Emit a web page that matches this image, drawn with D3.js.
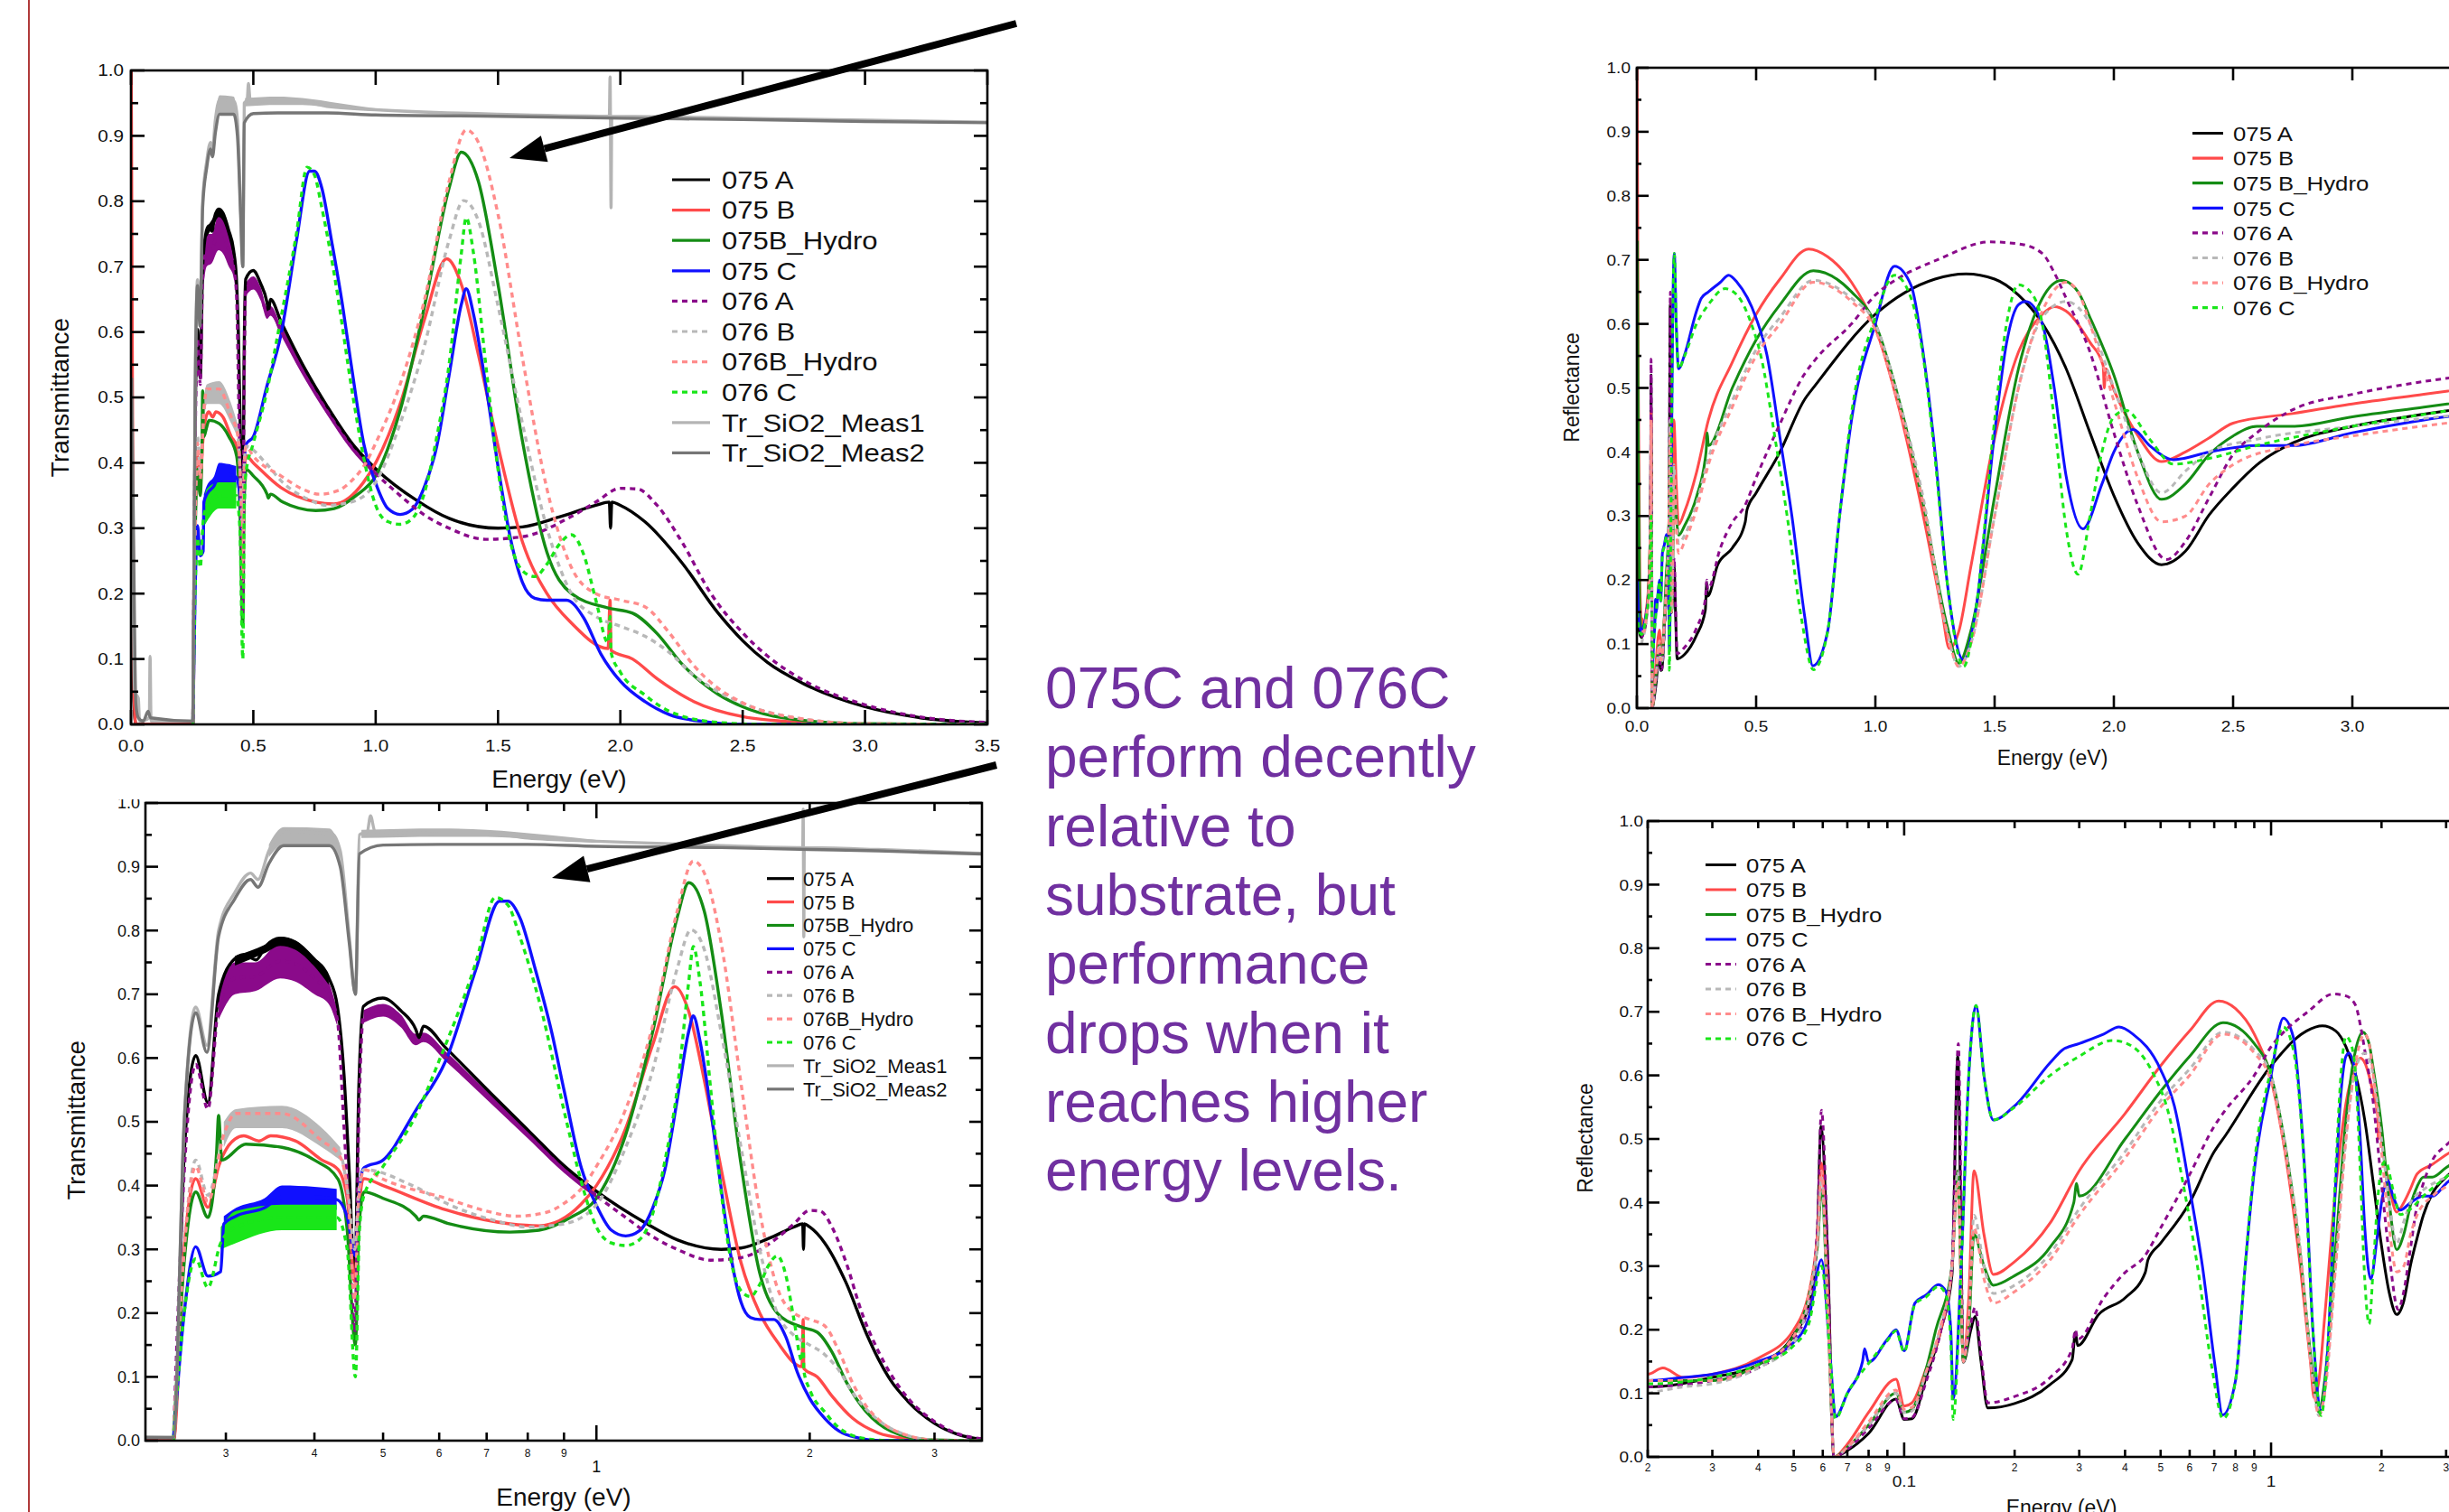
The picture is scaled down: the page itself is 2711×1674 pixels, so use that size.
<!DOCTYPE html>
<html>
<head>
<meta charset="utf-8">
<script src="https://cdn.jsdelivr.net/npm/d3@7"></script>
<style>
body { margin: 0; background: #fff; }
svg { display: block; font-family: "Liberation Sans", Arial, Helvetica, sans-serif; }
</style>
</head>
<body>
<div id="slide"></div>
<script>
// ---- transmittance data [energy eV, T] ----
const t075A = [[0.001,0.30],[0.01,0.05],[0.02,0],[0.253,0],[0.262,0.45],[0.272,0.604],[0.283,0.53],[0.293,0.70],[0.309,0.756],[0.318,0.762],[0.331,0.754],[0.341,0.775],[0.358,0.788],[0.376,0.782],[0.399,0.756],[0.419,0.726],[0.431,0.681],[0.44,0.58],[0.448,0.42],[0.456,0.25],[0.462,0.55],[0.469,0.681],[0.4995,0.694],[0.53,0.674],[0.556,0.645],[0.562,0.632],[0.57,0.65],[0.613,0.616],[0.709,0.545],[0.804,0.485],[0.907,0.428],[1.0,0.391],[1.17,0.342],[1.3,0.315],[1.5,0.30],[1.6,0.302],[1.75,0.317],[1.9,0.335],[1.955,0.34],[1.96,0.30],[1.965,0.34],[2.0,0.335],[2.1,0.31],[2.25,0.248],[2.4,0.17],[2.5,0.128],[2.6,0.095],[2.75,0.062],[3.0,0.027],[3.25,0.009],[3.5,0.002]];
const t075B = [[0.001,1.0],[0.006,0.5],[0.012,0.05],[0.02,0],[0.253,0],[0.262,0.3],[0.272,0.411],[0.283,0.366],[0.293,0.43],[0.309,0.473],[0.318,0.478],[0.334,0.47],[0.347,0.478],[0.376,0.47],[0.41,0.44],[0.432,0.425],[0.445,0.38],[0.456,0.25],[0.462,0.36],[0.469,0.411],[0.5,0.40],[0.613,0.362],[0.755,0.34],[0.83,0.337],[0.95,0.37],[1.0,0.40],[1.1,0.49],[1.2,0.62],[1.29,0.712],[1.35,0.673],[1.42,0.565],[1.5,0.426],[1.6,0.279],[1.7,0.2],[1.8,0.155],[1.95,0.116],[1.958,0.19],[1.962,0.113],[2.05,0.10],[2.15,0.07],[2.3,0.035],[2.5,0.012],[2.75,0.003],[3.0,0],[3.5,0]];
const t075BH = [[0.253,0],[0.262,0.28],[0.272,0.39],[0.283,0.35],[0.291,0.45],[0.293,0.51],[0.296,0.44],[0.32,0.465],[0.36,0.46],[0.4,0.44],[0.432,0.41],[0.445,0.33],[0.457,0.15],[0.462,0.33],[0.47,0.39],[0.5,0.38],[0.556,0.352],[0.562,0.346],[0.57,0.352],[0.62,0.34],[0.755,0.327],[0.83,0.33],[0.92,0.35],[1.0,0.38],[1.1,0.48],[1.2,0.64],[1.3,0.82],[1.35,0.875],[1.42,0.83],[1.5,0.673],[1.6,0.433],[1.7,0.263],[1.8,0.2],[1.95,0.178],[2.05,0.17],[2.15,0.139],[2.25,0.093],[2.4,0.046],[2.5,0.027],[2.75,0.006],[3.0,0.001],[3.5,0]];
const t075C = [[0.253,0],[0.262,0.2],[0.272,0.304],[0.283,0.258],[0.295,0.265],[0.298,0.34],[0.31,0.352],[0.34,0.365],[0.36,0.382],[0.4,0.382],[0.43,0.378],[0.445,0.35],[0.457,0.29],[0.463,0.40],[0.47,0.428],[0.5,0.44],[0.556,0.518],[0.613,0.596],[0.676,0.739],[0.73,0.846],[0.75,0.846],[0.78,0.82],[0.82,0.739],[0.865,0.64],[0.9,0.55],[0.952,0.428],[1.0,0.369],[1.05,0.33],[1.1,0.321],[1.15,0.329],[1.2,0.364],[1.25,0.426],[1.3,0.534],[1.35,0.642],[1.37,0.666],[1.4,0.627],[1.45,0.519],[1.5,0.395],[1.55,0.286],[1.6,0.217],[1.65,0.193],[1.7,0.19],[1.78,0.19],[1.85,0.163],[1.92,0.108],[2.0,0.066],[2.1,0.035],[2.2,0.015],[2.35,0.004],[2.5,0],[3.5,0]];
const t076A = [[0.253,0],[0.262,0.42],[0.272,0.59],[0.283,0.52],[0.293,0.68],[0.309,0.725],[0.33,0.728],[0.358,0.752],[0.376,0.748],[0.4,0.725],[0.419,0.70],[0.431,0.66],[0.44,0.5],[0.45,0.3],[0.456,0.17],[0.462,0.5],[0.469,0.665],[0.5,0.675],[0.53,0.658],[0.556,0.629],[0.57,0.632],[0.613,0.602],[0.7,0.541],[0.8,0.48],[0.9,0.425],[1.0,0.384],[1.1,0.35],[1.2,0.32],[1.3,0.30],[1.45,0.283],[1.6,0.287],[1.8,0.318],[1.9,0.34],[2.0,0.361],[2.07,0.36],[2.15,0.335],[2.25,0.28],[2.37,0.2],[2.5,0.14],[2.6,0.105],[2.76,0.065],[3.0,0.03],[3.25,0.01],[3.5,0.003]];
const t076B = [[0.253,0],[0.262,0.3],[0.272,0.44],[0.283,0.385],[0.298,0.48],[0.31,0.505],[0.36,0.508],[0.41,0.475],[0.435,0.45],[0.447,0.38],[0.456,0.3],[0.462,0.39],[0.47,0.425],[0.55,0.40],[0.62,0.37],[0.72,0.345],[0.8,0.335],[0.9,0.34],[1.0,0.37],[1.1,0.46],[1.2,0.58],[1.3,0.74],[1.36,0.801],[1.42,0.77],[1.5,0.64],[1.6,0.46],[1.7,0.3],[1.8,0.2],[1.9,0.165],[2.0,0.15],[2.1,0.135],[2.2,0.11],[2.3,0.075],[2.4,0.05],[2.5,0.032],[2.75,0.008],[3.0,0.001],[3.5,0]];
const t076BH = [[0.253,0],[0.262,0.3],[0.272,0.43],[0.283,0.375],[0.298,0.48],[0.31,0.513],[0.36,0.513],[0.41,0.47],[0.435,0.445],[0.447,0.37],[0.456,0.22],[0.462,0.38],[0.47,0.425],[0.5,0.41],[0.613,0.38],[0.7,0.36],[0.77,0.352],[0.85,0.358],[0.9,0.372],[0.96,0.4],[1.0,0.43],[1.1,0.52],[1.2,0.65],[1.3,0.83],[1.37,0.909],[1.42,0.89],[1.5,0.78],[1.6,0.56],[1.7,0.36],[1.8,0.24],[1.9,0.2],[2.0,0.19],[2.1,0.18],[2.2,0.14],[2.3,0.09],[2.4,0.055],[2.5,0.033],[2.75,0.008],[3.0,0.001],[3.5,0]];
const t076C = [[0.253,0],[0.262,0.2],[0.272,0.285],[0.283,0.24],[0.295,0.31],[0.31,0.335],[0.36,0.35],[0.43,0.35],[0.445,0.3],[0.457,0.1],[0.463,0.33],[0.47,0.385],[0.5,0.43],[0.556,0.51],[0.6,0.596],[0.676,0.75],[0.72,0.852],[0.75,0.84],[0.78,0.79],[0.83,0.69],[0.91,0.495],[0.95,0.41],[1.0,0.335],[1.05,0.31],[1.1,0.306],[1.15,0.315],[1.2,0.355],[1.25,0.44],[1.3,0.55],[1.35,0.72],[1.37,0.775],[1.4,0.72],[1.45,0.55],[1.5,0.39],[1.55,0.28],[1.6,0.235],[1.65,0.226],[1.7,0.245],[1.75,0.275],[1.8,0.29],[1.85,0.26],[1.9,0.19],[1.95,0.125],[1.958,0.165],[1.962,0.11],[2.0,0.08],[2.1,0.045],[2.2,0.02],[2.4,0.003],[2.6,0],[3.5,0]];
const tMeas1 = [[0.003,0.45],[0.015,0.05],[0.03,0.04],[0.035,0.005],[0.075,0.01],[0.078,0.104],[0.082,0.005],[0.253,0.005],[0.262,0.5],[0.272,0.68],[0.282,0.62],[0.293,0.80],[0.309,0.86],[0.325,0.89],[0.333,0.88],[0.345,0.925],[0.362,0.955],[0.423,0.952],[0.435,0.925],[0.448,0.79],[0.457,0.70],[0.463,0.95],[0.475,0.955],[0.48,0.98],[0.487,0.955],[0.6,0.952],[0.7,0.952],[0.8,0.945],[1.0,0.94],[1.5,0.933],[1.955,0.93],[1.958,0.99],[1.962,0.79],[1.965,0.93],[2.5,0.927],[3.0,0.924],[3.5,0.921]];
const tMeas2 = [[0.003,0.53],[0.01,0.3],[0.02,0.03],[0.03,0.01],[0.05,0.005],[0.07,0.02],[0.08,0.01],[0.253,0.005],[0.262,0.5],[0.272,0.671],[0.282,0.609],[0.293,0.791],[0.309,0.85],[0.325,0.88],[0.333,0.868],[0.345,0.905],[0.362,0.933],[0.42,0.933],[0.435,0.9],[0.448,0.78],[0.457,0.70],[0.463,0.92],[0.5,0.934],[0.6,0.935],[0.8,0.935],[1.0,0.932],[1.5,0.93],[2.0,0.927],[2.5,0.925],[3.0,0.922],[3.5,0.92]];

// noisy ranges in the transmittance traces [energy, low, high]
const band075A = [[0.309,0.745,0.76],[0.341,0.765,0.778],[0.358,0.776,0.79],[0.376,0.77,0.784],[0.399,0.745,0.758],[0.419,0.715,0.728]];
const band076A = [[0.293,0.66,0.70],[0.309,0.70,0.75],[0.33,0.705,0.75],[0.358,0.725,0.78],[0.376,0.72,0.775],[0.4,0.70,0.75],[0.419,0.685,0.72],[0.431,0.65,0.675]];
const band076Ab = [[0.469,0.655,0.675],[0.5,0.665,0.685],[0.53,0.648,0.668],[0.556,0.62,0.638],[0.57,0.625,0.64],[0.613,0.595,0.61],[0.7,0.535,0.548],[0.8,0.474,0.486],[0.9,0.42,0.43],[1.0,0.38,0.388]];
const band075C = [[0.298,0.33,0.352],[0.31,0.34,0.365],[0.34,0.35,0.38],[0.36,0.365,0.40],[0.4,0.367,0.398],[0.43,0.362,0.395]];
const band076C = [[0.295,0.30,0.335],[0.31,0.31,0.36],[0.36,0.33,0.37],[0.43,0.33,0.37]];
const band076B = [[0.298,0.46,0.50],[0.31,0.49,0.52],[0.36,0.49,0.525],[0.41,0.46,0.49],[0.435,0.44,0.46]];
const bandMeas1 = [[0.345,0.915,0.935],[0.362,0.935,0.962],[0.42,0.935,0.96],[0.435,0.90,0.93]];
const bandMeas1b = [[0.466,0.945,0.958],[0.6,0.947,0.96],[0.7,0.947,0.958],[0.85,0.942,0.95],[1.0,0.938,0.942]];

// ---- reflectance data [energy eV, R] ----
const r075A = [[0.002,0.3],[0.01,0.12],[0.02,0.11],[0.03,0.125],[0.04,0.145],[0.05,0.192],[0.055,0.24],[0.058,0.35],[0.0593,0.52],[0.062,0.3],[0.0643,0.0],[0.07,0.01],[0.08,0.037],[0.095,0.091],[0.1,0.059],[0.105,0.06],[0.115,0.127],[0.126,0.2],[0.135,0.286],[0.14,0.63],[0.145,0.149],[0.152,0.2],[0.156,0.221],[0.162,0.15],[0.169,0.077],[0.2,0.084],[0.249,0.113],[0.287,0.153],[0.293,0.196],[0.297,0.175],[0.339,0.224],[0.4,0.25],[0.454,0.29],[0.462,0.31],[0.5,0.336],[0.6,0.40],[0.7,0.48],[0.75,0.505],[1.0,0.615],[1.25,0.67],[1.38,0.678],[1.5,0.67],[1.6,0.645],[1.7,0.601],[1.8,0.53],[1.9,0.43],[2.0,0.332],[2.1,0.258],[2.2,0.224],[2.3,0.245],[2.4,0.302],[2.5,0.344],[2.6,0.38],[2.75,0.414],[3.0,0.44],[3.3,0.459],[3.5,0.47]];
const r075B = [[0.001,1.0],[0.006,0.5],[0.012,0.2],[0.02,0.13],[0.022,0.14],[0.025,0.125],[0.03,0.13],[0.04,0.155],[0.05,0.2],[0.056,0.28],[0.058,0.35],[0.0595,0.462],[0.062,0.25],[0.0645,0.0],[0.07,0.02],[0.08,0.07],[0.095,0.122],[0.1,0.08],[0.105,0.085],[0.115,0.14],[0.126,0.2],[0.135,0.3],[0.14,0.45],[0.145,0.16],[0.15,0.25],[0.155,0.45],[0.165,0.35],[0.175,0.287],[0.2,0.307],[0.25,0.368],[0.3,0.45],[0.4,0.54],[0.5,0.615],[0.6,0.67],[0.72,0.717],[0.8,0.705],[0.9,0.665],[1.0,0.594],[1.1,0.467],[1.2,0.302],[1.28,0.15],[1.31,0.093],[1.35,0.12],[1.4,0.22],[1.5,0.422],[1.6,0.556],[1.7,0.615],[1.75,0.627],[1.8,0.62],[1.9,0.571],[1.955,0.535],[1.96,0.5],[1.965,0.53],[2.0,0.497],[2.1,0.426],[2.2,0.385],[2.3,0.4],[2.4,0.422],[2.5,0.445],[2.75,0.46],[3.0,0.475],[3.3,0.49],[3.5,0.5]];
const r075BH = [[0.002,0.73],[0.006,0.4],[0.012,0.15],[0.02,0.12],[0.03,0.12],[0.04,0.145],[0.05,0.19],[0.058,0.33],[0.0595,0.42],[0.062,0.22],[0.0645,0.0],[0.07,0.015],[0.08,0.05],[0.095,0.1],[0.1,0.07],[0.105,0.075],[0.115,0.14],[0.122,0.2],[0.135,0.3],[0.14,0.45],[0.145,0.15],[0.15,0.2],[0.155,0.35],[0.165,0.3],[0.175,0.27],[0.2,0.285],[0.25,0.33],[0.29,0.4],[0.295,0.43],[0.3,0.41],[0.4,0.5],[0.5,0.575],[0.6,0.63],[0.74,0.683],[0.9,0.65],[1.0,0.6],[1.1,0.48],[1.2,0.32],[1.3,0.13],[1.35,0.07],[1.4,0.12],[1.5,0.33],[1.6,0.53],[1.7,0.64],[1.78,0.668],[1.85,0.65],[1.9,0.61],[2.0,0.52],[2.1,0.4],[2.2,0.326],[2.3,0.35],[2.4,0.396],[2.5,0.425],[2.6,0.44],[2.75,0.44],[3.0,0.455],[3.3,0.47],[3.5,0.48]];
const r075C = [[0.002,0.2],[0.01,0.13],[0.02,0.12],[0.025,0.125],[0.03,0.13],[0.04,0.15],[0.05,0.18],[0.055,0.22],[0.0595,0.31],[0.063,0.15],[0.065,0.063],[0.07,0.1],[0.077,0.15],[0.078,0.17],[0.08,0.149],[0.09,0.185],[0.095,0.2],[0.1,0.167],[0.107,0.242],[0.115,0.255],[0.124,0.271],[0.13,0.26],[0.134,0.2],[0.136,0.091],[0.143,0.3],[0.15,0.6],[0.157,0.71],[0.165,0.6],[0.175,0.53],[0.2,0.552],[0.25,0.62],[0.27,0.64],[0.3,0.65],[0.35,0.665],[0.385,0.676],[0.42,0.665],[0.5,0.609],[0.545,0.552],[0.6,0.422],[0.65,0.3],[0.704,0.142],[0.738,0.066],[0.8,0.12],[0.85,0.3],[0.9,0.45],[1.0,0.6],[1.08,0.69],[1.15,0.66],[1.2,0.556],[1.25,0.4],[1.3,0.2],[1.37,0.075],[1.42,0.15],[1.5,0.43],[1.55,0.57],[1.6,0.63],[1.63,0.635],[1.7,0.6],[1.75,0.5],[1.8,0.362],[1.87,0.28],[1.95,0.35],[2.0,0.4],[2.08,0.435],[2.15,0.41],[2.25,0.388],[2.4,0.4],[2.6,0.41],[2.75,0.41],[3.0,0.43],[3.3,0.45],[3.5,0.46]];
const r076A = [[0.02,0.11],[0.03,0.12],[0.04,0.14],[0.05,0.185],[0.055,0.24],[0.058,0.36],[0.0595,0.545],[0.062,0.3],[0.0643,0.0],[0.07,0.012],[0.08,0.045],[0.095,0.09],[0.1,0.06],[0.105,0.062],[0.115,0.12],[0.126,0.2],[0.135,0.3],[0.1405,0.65],[0.145,0.16],[0.152,0.21],[0.156,0.235],[0.162,0.16],[0.169,0.085],[0.2,0.095],[0.25,0.125],[0.287,0.17],[0.293,0.2],[0.297,0.185],[0.35,0.25],[0.4,0.29],[0.45,0.314],[0.5,0.36],[0.6,0.444],[0.7,0.52],[0.75,0.545],[0.9,0.6],[1.0,0.645],[1.1,0.672],[1.26,0.7],[1.48,0.728],[1.6,0.725],[1.7,0.71],[1.75,0.68],[1.8,0.64],[1.9,0.556],[2.0,0.43],[2.1,0.317],[2.22,0.232],[2.3,0.26],[2.4,0.329],[2.5,0.396],[2.6,0.43],[2.75,0.466],[3.0,0.49],[3.3,0.51],[3.5,0.52]];
const r076B = [[0.02,0.1],[0.025,0.11],[0.03,0.115],[0.04,0.14],[0.05,0.18],[0.058,0.33],[0.0595,0.44],[0.062,0.22],[0.0645,0.0],[0.07,0.015],[0.08,0.05],[0.095,0.1],[0.1,0.07],[0.105,0.072],[0.115,0.135],[0.125,0.2],[0.135,0.3],[0.14,0.45],[0.145,0.15],[0.15,0.22],[0.155,0.38],[0.165,0.3],[0.175,0.257],[0.2,0.27],[0.25,0.32],[0.3,0.39],[0.4,0.48],[0.5,0.56],[0.6,0.61],[0.74,0.668],[0.9,0.64],[1.0,0.6],[1.1,0.48],[1.2,0.33],[1.3,0.12],[1.35,0.065],[1.4,0.1],[1.5,0.3],[1.6,0.5],[1.7,0.61],[1.8,0.635],[1.9,0.6],[2.0,0.5],[2.1,0.4],[2.2,0.336],[2.3,0.37],[2.4,0.4],[2.6,0.42],[3.0,0.44],[3.5,0.46]];
const r076BH = [[0.02,0.12],[0.03,0.12],[0.04,0.145],[0.05,0.19],[0.058,0.34],[0.0595,0.45],[0.062,0.22],[0.0645,0.0],[0.07,0.015],[0.08,0.055],[0.095,0.105],[0.1,0.075],[0.105,0.078],[0.115,0.135],[0.125,0.2],[0.135,0.3],[0.14,0.43],[0.145,0.15],[0.15,0.22],[0.155,0.36],[0.165,0.28],[0.175,0.242],[0.2,0.26],[0.25,0.31],[0.3,0.38],[0.4,0.47],[0.5,0.55],[0.6,0.6],[0.74,0.665],[0.9,0.635],[1.0,0.59],[1.1,0.47],[1.2,0.32],[1.3,0.12],[1.35,0.065],[1.4,0.1],[1.5,0.3],[1.6,0.5],[1.7,0.62],[1.8,0.665],[1.85,0.65],[1.9,0.6],[2.0,0.48],[2.1,0.36],[2.2,0.291],[2.3,0.3],[2.4,0.35],[2.5,0.38],[2.75,0.41],[3.0,0.425],[3.5,0.45]];
const r076C = [[0.002,0.15],[0.01,0.12],[0.02,0.115],[0.03,0.125],[0.04,0.145],[0.05,0.175],[0.055,0.21],[0.0595,0.3],[0.063,0.15],[0.065,0.06],[0.07,0.1],[0.08,0.147],[0.09,0.183],[0.095,0.198],[0.1,0.165],[0.107,0.24],[0.115,0.252],[0.124,0.268],[0.13,0.255],[0.134,0.18],[0.136,0.059],[0.143,0.3],[0.15,0.6],[0.157,0.71],[0.165,0.6],[0.175,0.53],[0.2,0.55],[0.25,0.6],[0.3,0.63],[0.37,0.655],[0.42,0.645],[0.48,0.6],[0.52,0.55],[0.58,0.42],[0.63,0.3],[0.69,0.14],[0.74,0.06],[0.8,0.12],[0.85,0.3],[0.9,0.46],[1.0,0.61],[1.08,0.676],[1.15,0.64],[1.2,0.55],[1.25,0.39],[1.3,0.2],[1.37,0.065],[1.42,0.15],[1.5,0.45],[1.55,0.6],[1.6,0.661],[1.65,0.65],[1.7,0.6],[1.75,0.45],[1.8,0.28],[1.85,0.209],[1.9,0.3],[1.95,0.4],[2.0,0.455],[2.05,0.465],[2.15,0.42],[2.25,0.381],[2.4,0.39],[2.6,0.41],[3.0,0.44],[3.5,0.47]];

// ---- series names / styles ----
const transNames = ["075 A", "075 B", "075B_Hydro", "075 C", "076 A", "076 B", "076B_Hydro", "076 C", "Tr_SiO2_Meas1", "Tr_SiO2_Meas2"];
const reflNames = ["075 A", "075 B", "075 B_Hydro", "075 C", "076 A", "076 B", "076 B_Hydro", "076 C"];
const colors = ["#000000", "#ff4a4a", "#148c14", "#1010ff", "#8a0a8a", "#b8b8b8", "#ff8c8c", "#19e619", "#b4b4b4", "#767676"];
const dashed = [false, false, false, false, true, true, true, true, false, false];
const transSeries = [t075A, t075B, t075BH, t075C, t076A, t076B, t076BH, t076C, tMeas1, tMeas2];
const reflSeries = [r075A, r075B, r075BH, r075C, r076A, r076B, r076BH, r076C];
const transBands = [[bandMeas1, 8], [bandMeas1b, 8], [band076A, 4], [band075A, 0], [band076Ab, 4], [band076B, 5], [band075C, 3], [band076C, 7]];

// ticks
const linTicks = [0, 0.5, 1, 1.5, 2, 2.5, 3, 3.5];
const yMajor = d3.range(0, 11).map(d => d / 10);
const yMinor = d3.range(0, 10).map(d => d / 10 + 0.05);
const logMinorT = [0.3, 0.4, 0.5, 0.6, 0.7, 0.8, 0.9, 2, 3];
const logMajorT = [1];
const logMinorR = [0.02, 0.03, 0.04, 0.05, 0.06, 0.07, 0.08, 0.09, 0.2, 0.3, 0.4, 0.5, 0.6, 0.7, 0.8, 0.9, 2, 3];
const logMajorR = [0.1, 1];

const noteLines = ["075C and 076C", "perform decently", "relative to", "substrate, but", "performance", "drops when it", "reaches higher", "energy levels."];

const W = 2711, H = 1674;
const svg = d3.select("#slide").append("svg").attr("width", W).attr("height", H);
svg.append("rect").attr("width", W).attr("height", H).attr("fill", "#fff");
const defs = svg.append("defs");

function txt(g, x, y, s, size, anchor, sx) {
    return g.append("text")
        .attr("transform", `translate(${x},${y}) scale(${sx},1)`)
        .attr("text-anchor", anchor)
        .attr("font-size", size)
        .attr("fill", "#111")
        .text(s);
}

function chart(o) {
    const g = svg.append("g");
    if (o.clip) {
        defs.append("clipPath").attr("id", "outer" + o.id).append("rect")
            .attr("x", o.clip[0]).attr("y", o.clip[1]).attr("width", o.clip[2]).attr("height", o.clip[3]);
        g.attr("clip-path", `url(#outer${o.id})`);
    }
    const x = (o.log ? d3.scaleLog() : d3.scaleLinear()).domain(o.xDomain).range([o.left, o.right]);
    const y = d3.scaleLinear().domain([0, 1]).range([o.bottom, o.top]);

    defs.append("clipPath").attr("id", "plot" + o.id).append("rect")
        .attr("x", o.left).attr("y", o.top).attr("width", o.right - o.left).attr("height", o.bottom - o.top);
    const plot = g.append("g").attr("clip-path", `url(#plot${o.id})`);

    const area = d3.area().x(d => x(d[0])).y0(d => y(d[1])).y1(d => y(d[2])).curve(d3.curveMonotoneX);
    (o.bands || []).forEach(b => {
        plot.append("path").datum(b[0]).attr("fill", colors[b[1]]).attr("d", area);
    });

    const line = d3.line().x(d => x(d[0])).y(d => y(d[1])).curve(d3.curveMonotoneX);
    o.series.forEach((s, i) => {
        plot.append("path").datum(s)
            .attr("fill", "none")
            .attr("stroke", colors[i])
            .attr("stroke-width", o.lw)
            .attr("stroke-linejoin", "round")
            .attr("stroke-dasharray", dashed[i] ? "6,5" : null)
            .attr("d", line);
    });

    // frame
    g.append("rect").attr("x", o.left).attr("y", o.top)
        .attr("width", o.right - o.left).attr("height", o.bottom - o.top)
        .attr("fill", "none").attr("stroke", "#000").attr("stroke-width", 2.6);

    const tk = g.append("g").attr("stroke", "#000").attr("stroke-width", 2.6);
    // y ticks on both sides
    yMajor.forEach(v => {
        tk.append("line").attr("x1", o.left).attr("x2", o.left + o.yMaj).attr("y1", y(v)).attr("y2", y(v));
        tk.append("line").attr("x1", o.right).attr("x2", o.right - o.yMaj).attr("y1", y(v)).attr("y2", y(v));
        txt(g, o.yLabX, y(v) + o.tickFont * 0.36, v.toFixed(1), o.tickFont, "end", o.sx);
    });
    yMinor.forEach(v => {
        tk.append("line").attr("x1", o.left).attr("x2", o.left + o.yMin).attr("y1", y(v)).attr("y2", y(v));
        tk.append("line").attr("x1", o.right).attr("x2", o.right - o.yMin).attr("y1", y(v)).attr("y2", y(v));
    });

    // x ticks
    o.xMajor.forEach((v, i) => {
        tk.append("line").attr("x1", x(v)).attr("x2", x(v)).attr("y1", o.bottom).attr("y2", o.bottom - o.xMaj);
        tk.append("line").attr("x1", x(v)).attr("x2", x(v)).attr("y1", o.top).attr("y2", o.top + o.xMaj);
        if (o.xMajorLabels[i]) txt(g, x(v), o.xLabY, o.xMajorLabels[i], o.tickFont, "middle", o.sx);
    });
    (o.xMinor || []).forEach(v => {
        tk.append("line").attr("x1", x(v)).attr("x2", x(v)).attr("y1", o.bottom).attr("y2", o.bottom - o.xMin);
        tk.append("line").attr("x1", x(v)).attr("x2", x(v)).attr("y1", o.top).attr("y2", o.top + o.xMin);
        txt(g, x(v), o.xMinLabY, String(Math.round(v / Math.pow(10, Math.floor(Math.log10(v) + 1e-9)))), o.minFont, "middle", 1);
    });

    // axis titles
    txt(g, o.xTitle[0], o.xTitle[1], "Energy (eV)", o.titleFont, "middle", 1);
    g.append("text")
        .attr("transform", `translate(${o.yTitle[0]},${o.yTitle[1]}) rotate(-90)`)
        .attr("text-anchor", "middle").attr("font-size", o.titleFont).attr("fill", "#111")
        .text(o.yName);

    // legend
    const lg = g.append("g");
    o.names.forEach((n, i) => {
        const yy = o.legY + i * o.legStep;
        lg.append("line").attr("x1", o.legX[0]).attr("x2", o.legX[1]).attr("y1", yy).attr("y2", yy)
            .attr("stroke", colors[i]).attr("stroke-width", 3.2)
            .attr("stroke-dasharray", dashed[i] ? "6,5" : null);
        txt(lg, o.legX[2], yy + o.legFont * 0.36, n, o.legFont, "start", o.sx);
    });
}

// top-left: transmittance, linear energy
chart({
    id: 1, left: 145, right: 1093, top: 78, bottom: 802, xDomain: [0, 3.5], log: false,
    series: transSeries, bands: transBands, lw: 3.4,
    xMajor: linTicks, xMajorLabels: linTicks.map(d => d.toFixed(1)), xMaj: 16,
    yMaj: 15, yMin: 8, yLabX: 137, xLabY: 832, tickFont: 18, sx: 1.15,
    xTitle: [619, 872], yTitle: [76, 440], titleFont: 28, yName: "Transmittance",
    names: transNames, legY: 199, legStep: 33.6, legX: [744, 786, 799], legFont: 27
});

// bottom-left: transmittance, log energy
chart({
    id: 2, left: 161, right: 1087, top: 889, bottom: 1595, xDomain: [0.231, 3.5], log: true,
    clip: [0, 885, 1130, 789],
    series: transSeries, bands: transBands, lw: 3.4,
    xMajor: logMajorT, xMajorLabels: ["1"], xMaj: 17, xMinor: logMinorT, xMin: 9,
    yMaj: 14, yMin: 7, yLabX: 155, xLabY: 1630, xMinLabY: 1613, tickFont: 18, minFont: 12, sx: 1.0,
    xTitle: [624, 1667], yTitle: [94, 1240], titleFont: 28, yName: "Transmittance",
    names: transNames, legY: 972.7, legStep: 25.9, legX: [849, 879, 889], legFont: 22
});

// top-right: reflectance, linear energy (right part runs past the slide edge)
chart({
    id: 3, left: 1812, right: 2736, top: 75, bottom: 784, xDomain: [0, 3.5], log: false,
    series: reflSeries, lw: 3,
    xMajor: linTicks, xMajorLabels: linTicks.map(d => d < 3.4 ? d.toFixed(1) : ""), xMaj: 14,
    yMaj: 13, yMin: 5, yLabX: 1805, xLabY: 810, tickFont: 17, sx: 1.12,
    xTitle: [2272, 847], yTitle: [1748, 429], titleFont: 23, yName: "Reflectance",
    names: reflNames, legY: 147.5, legStep: 27.6, legX: [2427, 2461, 2472], legFont: 23
});

// bottom-right: reflectance, log energy (title sits at the slide's lower edge)
chart({
    id: 4, left: 1824, right: 2735, top: 909, bottom: 1613, xDomain: [0.02, 3.5], log: true,
    series: reflSeries, lw: 3,
    xMajor: logMajorR, xMajorLabels: ["0.1", "1"], xMaj: 16, xMinor: logMinorR, xMin: 8,
    yMaj: 13, yMin: 5, yLabX: 1819, xLabY: 1646, xMinLabY: 1629, tickFont: 17, minFont: 12, sx: 1.12,
    xTitle: [2282, 1677], yTitle: [1763, 1260], titleFont: 23, yName: "Reflectance",
    names: reflNames, legY: 957.5, legStep: 27.5, legX: [1888, 1922, 1933], legFont: 23
});

// left page rule
svg.append("line").attr("x1", 32).attr("x2", 32).attr("y1", 0).attr("y2", H)
    .attr("stroke", "#b03a3a").attr("stroke-width", 2);

// arrows
function arrow(x1, y1, x2, y2) {
    const a = Math.atan2(y2 - y1, x2 - x1), L = 40, hw = 15;
    const bx = x2 - L * Math.cos(a), by = y2 - L * Math.sin(a);
    svg.append("line").attr("x1", x1).attr("y1", y1).attr("x2", bx).attr("y2", by)
        .attr("stroke", "#000").attr("stroke-width", 8);
    svg.append("polygon")
        .attr("points", [[x2, y2], [bx + hw * Math.sin(a), by - hw * Math.cos(a)], [bx - hw * Math.sin(a), by + hw * Math.cos(a)]].map(p => p.join(",")).join(" "))
        .attr("fill", "#000");
}
arrow(1125, 26, 564, 175);
arrow(1103, 847, 611, 972);

// annotation
const note = svg.append("text").attr("font-size", 64).attr("fill", "#7030a0");
noteLines.forEach((s, i) => {
    note.append("tspan").attr("x", 1157).attr("y", 784 + i * 76.3).text(s);
});
</script>
</body>
</html>
